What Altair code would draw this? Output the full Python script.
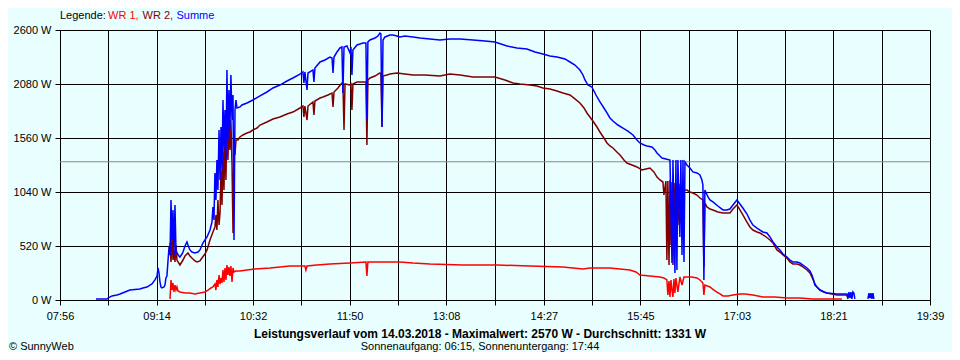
import altair as alt
import pandas as pd

# ---------------- data ----------------
X_LABELS = ["07:56", "09:14", "10:32", "11:50", "13:08", "14:27", "15:45", "17:03", "18:21", "19:39"]
Y_TICKS = [0, 520, 1040, 1560, 2080, 2600]
AVG_W = 1331
SERIES_NAMES = ["WR 1", "WR 2", "Summe"]
SERIES_COLORS = ["#FF0000", "#800000", "#0000FF"]

# time in minutes after midnight, power in W
SUM_T = [505.1,514.0,514.8,518.0,522.0,524.5,528.5,532.5,540.6,543.0,
         546.3,548.7,550.3,552.7,554.4,555.2,556.0,556.8,557.6,558.4,
         560.0,560.8,561.6,562.4,563.2,564.1,564.9,565.7,566.5,567.3,
         568.1,568.9,569.7,570.5,572.1,572.9,574.6,575.4,577.0,578.6,
         579.4,581.0,582.6,585.1,587.5,589.1,591.5,593.1,594.8,597.2,
         598.8,599.6,600.4,601.2,602.0,602.8,603.6,604.5,605.3,606.1,
         606.9,607.7,608.5,609.3,610.1,610.9,611.7,612.5,613.3,614.1,
         615.0,615.8,616.6,617.4,618.2,619.0,621.4,623.0,627.1,631.9,
         637.6,643.2,648.1,653.7,659.4,664.2,669.9,672.3,673.1,673.9,
         675.6,676.4,680.4,681.2,682.0,686.1,690.1,694.1,695.8,696.6,
         697.4,699.8,702.2,703.8,704.6,705.5,707.9,710.3,711.1,711.9,
         712.7,716.0,718.4,720.8,723.2,724.0,724.8,726.5,730.5,732.9,
         734.5,735.3,736.2,737.0,738.6,742.6,745.0,748.3,750.7,754.7,
         761.2,766.9,774.9,783.0,791.1,799.2,809.7,819.4,827.5,837.2,
         845.2,853.3,859.8,866.2,871.9,877.6,884.0,888.1,892.1,896.1,
         898.6,900.2,902.6,905.8,909.1,912.3,915.5,918.0,920.4,922.8,
         926.8,930.9,934.9,939.0,942.2,944.6,947.9,950.3,954.3,956.7,
         958.4,960.8,962.4,965.6,968.9,970.5,971.3,972.9,973.7,974.5,
         975.3,976.9,977.7,978.6,979.4,980.2,981.0,982.6,985.0,987.4,
         990.7,993.1,994.7,995.5,996.3,997.1,999.6,1001.2,1003.6,1007.6,
         1011.7,1014.9,1017.3,1019.8,1023.0,1025.4,1027.8,1031.1,1033.5,1035.9,
         1039.2,1041.6,1044.0,1047.2,1049.7,1052.1,1055.3,1057.7,1060.2,1063.4,
         1065.8,1068.2,1071.5,1073.9,1076.3,1079.6,1082.0,1083.6,1085.2,1086.0,
         1088.4,1090.1,1093.3,1095.7,1103.8,1111.9,1112.7,1113.5,1114.3,1115.1,
         1115.9,1116.7,1117.5,1118.3]
SUM_W = [10,10,19,39,48,58,77,96,106,116,
         125,144,154,193,231,308,260,173,125,116,
         125,144,212,231,366,510,433,963,578,867,
         433,915,482,453,424,414,443,462,520,559,
         530,482,462,453,462,482,549,578,607,674,
         751,896,770,1223,963,1348,1059,1637,1156,1666,
         1252,1926,1445,1830,1348,2215,1541,2022,1637,2167,
         1733,1974,578,1830,1926,1849,1859,1878,1897,1926,
         1965,2003,2042,2070,2109,2138,2176,2196,2090,2196,
         2022,2186,2215,2099,2234,2292,2311,2340,2330,2186,
         2340,2388,2427,2436,1993,2436,2446,2379,2436,2167,
         2408,2456,2465,2475,2475,1733,2485,2504,2523,2542,
         2570,2562,1666,2504,2533,2552,2552,2542,2533,2542,
         2533,2523,2513,2504,2513,2513,2504,2494,2485,2446,
         2427,2417,2388,2369,2350,2340,2321,2292,2263,2215,
         2167,2119,2070,2051,1974,1907,1849,1801,1753,1724,
         1685,1656,1627,1589,1541,1512,1493,1483,1473,1445,
         1416,1387,1367,1358,1348,356,1348,260,1348,289,
         1348,607,1348,433,1348,366,1329,1300,1271,1233,
         1223,1204,1156,1107,193,1059,992,963,944,905,
         867,867,876,915,963,924,886,828,770,722,
         693,674,655,645,607,559,510,482,443,414,
         385,366,366,356,337,308,279,241,183,144,
         116,96,77,67,58,58,19,77,19,77,
         10,77,67,10]
SUM2_T = [1128.8,1129.7,1130.5,1131.3,1132.1,1132.9,1133.7]
SUM2_W = [10,67,19,67,10,67,10]

WR2_T = [564.9,565.7,566.5,567.3,568.1,568.9,569.7,570.5,572.9,575.4,
         577.0,579.4,581.0,582.6,585.1,586.7,589.1,590.7,593.1,594.8,
         597.2,599.6,601.2,602.0,602.8,603.6,604.5,605.3,606.1,606.9,
         607.7,608.5,609.3,610.1,610.9,611.7,612.5,613.3,614.1,615.0,
         615.8,616.6,617.4,618.2,619.8,621.4,623.8,627.1,629.5,631.9,
         635.2,637.6,643.2,648.1,653.7,659.4,664.2,669.9,672.3,673.1,
         673.9,675.6,676.4,680.4,681.2,682.0,686.1,688.5,692.5,695.8,
         696.6,697.4,700.6,703.8,704.6,705.5,706.3,710.3,711.1,711.9,
         712.7,716.0,718.4,723.2,724.0,724.8,726.5,730.5,732.9,734.5,
         735.3,736.2,737.0,740.2,742.6,748.3,754.7,761.2,770.9,783.0,
         791.1,799.2,809.7,819.4,827.5,835.5,842.0,847.7,855.7,861.4,
         866.2,871.9,877.6,882.4,888.1,892.1,896.1,899.4,901.8,904.2,
         906.6,909.9,912.3,915.5,918.0,920.4,922.8,926.0,928.5,931.7,
         934.1,938.2,942.2,946.2,949.5,952.7,955.9,958.4,960.8,963.2,
         964.0,965.6,966.4,967.2,968.1,968.9,969.7,970.5,971.3,972.9,
         973.7,974.5,975.3,976.9,978.6,979.4,980.2,982.6,985.0,987.4,
         990.7,993.1,995.5,996.3,997.1,998.8,1001.2,1003.6,1007.6,1011.7,
         1017.3,1019.8,1023.0,1025.4,1027.8,1031.1,1033.5,1035.9,1039.2,1041.6,
         1045.6,1049.7,1052.1,1055.3,1057.7,1060.2,1063.4,1065.8,1068.2,1071.5,
         1073.9,1076.3,1079.6,1082.0,1083.6,1086.0,1087.6,1090.1,1093.3,1095.7,
         1103.8,1111.9,1112.7]
WR2_W = [549,366,626,385,482,366,530,385,337,385,
         424,453,424,404,376,366,376,404,443,482,
         578,655,703,819,674,963,722,838,1252,915,
         1445,1059,1637,1156,1782,1348,1685,1445,1733,1300,
         645,1493,1396,1541,1541,1570,1589,1608,1618,1637,
         1656,1685,1714,1743,1762,1791,1810,1849,1868,1762,
         1868,1733,1868,1907,1782,1916,1945,1955,1974,1993,
         1859,2003,2042,2090,2090,1637,2080,2070,2080,1830,
         2080,2099,2099,2099,1493,2119,2138,2157,2176,2186,
         2176,1666,2157,2167,2176,2186,2176,2167,2167,2157,
         2176,2167,2147,2147,2147,2119,2090,2080,2070,2061,
         2042,2032,2013,1993,1974,1936,1897,1849,1801,1762,
         1724,1666,1618,1560,1512,1483,1464,1425,1396,1348,
         1319,1300,1281,1252,1262,1271,1233,1184,1156,1136,
         1011,1146,385,1146,337,1156,530,1136,337,1127,
         578,1107,722,1098,1059,578,1059,1059,1040,1030,
         1011,982,963,318,934,896,876,867,847,838,
         838,876,915,867,819,751,703,674,655,645,
         616,578,549,482,462,433,404,366,347,347,
         337,318,289,260,221,154,125,96,77,67,
         48,48,10]

WR1_T = [564.9,565.7,566.5,567.3,568.1,568.9,569.7,570.5,571.3,572.9,
         577.0,581.0,585.1,589.1,593.1,595.6,598.0,599.6,601.2,602.0,
         602.8,603.6,604.5,605.3,606.1,606.9,607.7,608.5,609.3,610.1,
         610.9,611.7,612.5,613.3,614.1,615.0,615.8,616.6,618.2,621.4,
         627.1,633.5,645.7,661.8,673.9,674.7,675.6,683.6,694.1,710.3,
         723.2,724.0,724.8,734.5,750.7,761.2,774.9,801.6,829.1,855.7,
         882.4,898.6,904.2,920.4,928.5,936.5,941.4,944.6,952.7,960.8,
         964.0,966.4,967.2,968.1,968.9,969.7,970.5,971.3,972.1,972.9,
         973.7,975.3,976.9,978.6,980.2,986.6,990.7,993.1,995.5,996.3,
         997.1,1001.2,1004.4,1006.8,1009.3,1011.7,1015.7,1019.8,1025.4,1029.5,
         1035.9,1044.0,1053.7,1063.4,1073.9,1084.4,1107.8]
WR1_W = [10,193,96,164,77,144,96,125,87,77,
         67,67,58,67,77,96,116,125,154,96,
         193,125,241,154,212,164,289,173,308,193,
         337,241,318,231,327,173,308,270,279,279,
         289,299,308,327,327,289,327,337,347,356,
         366,231,366,366,366,356,347,337,337,327,
         318,299,308,308,299,289,270,241,231,221,
         212,193,48,183,29,193,96,29,202,67,
         212,77,221,144,221,221,212,193,164,48,
         144,125,96,77,58,39,39,48,58,58,
         48,29,29,19,19,10,10]

TITLE = "Leistungsverlauf vom 14.03.2018 - Maximalwert: 2570 W - Durchschnitt: 1331 W"
SUBTITLE = "Sonnenaufgang: 06:15, Sonnenuntergang: 17:44"
CREDIT = "\u00a9 SunnyWeb"

# ---------------- build tables ----------------
def to_min(s):
    h, m = s.split(":")
    return int(h) * 60 + int(m)

major = [to_min(s) for s in X_LABELS]
ticks = major + [(a + b) / 2 for a, b in zip(major[:-1], major[1:])]
label_expr = "".join(f"datum.value == {m} ? '{s}' : " for m, s in zip(major, X_LABELS)) + "''"

df_sum = pd.DataFrame({"t": SUM_T + SUM2_T, "w": SUM_W + SUM2_W,
                       "seg": [1] * len(SUM_T) + [2] * len(SUM2_T)})
df_wr2 = pd.DataFrame({"t": WR2_T, "w": WR2_W})
df_wr1 = pd.DataFrame({"t": WR1_T, "w": WR1_W})
df_avg = pd.DataFrame({"w": [AVG_W]})

FONT = "Liberation Sans"

x_enc = alt.X("t:Q",
              scale=alt.Scale(domain=[major[0], major[-1]], nice=False, zero=False),
              axis=alt.Axis(values=ticks, labelExpr=label_expr, title=None, grid=True,
                            tickSize=5, labelPadding=5, labelFlush=False,
                            labelOverlap=False))
y_enc = alt.Y("w:Q",
              scale=alt.Scale(domain=[0, 2600], nice=False),
              axis=alt.Axis(values=Y_TICKS, labelExpr="datum.value + ' W'", title=None,
                            grid=True, tickSize=5, labelPadding=4))

avg_rule = alt.Chart(df_avg).mark_rule(color="#8a8a8a", strokeWidth=1).encode(y=y_enc)

line_sum = alt.Chart(df_sum).mark_line(color=SERIES_COLORS[2], strokeWidth=1.5).encode(
    x=x_enc, y=y_enc, detail="seg:N")
line_wr2 = alt.Chart(df_wr2).mark_line(color=SERIES_COLORS[1], strokeWidth=1.5).encode(
    x=x_enc, y=y_enc)
line_wr1 = alt.Chart(df_wr1).mark_line(color=SERIES_COLORS[0], strokeWidth=1.5).encode(
    x=x_enc, y=y_enc)

one = pd.DataFrame({"a": [0]})

def label(text, x, y, color="black", bold=False, align="left", size=11):
    return alt.Chart(one).mark_text(
        text=text, font=FONT, fontSize=size, color=color, align=align,
        baseline="middle", fontWeight="bold" if bold else "normal"
    ).encode(x=alt.value(x), y=alt.value(y))

texts = [
    label("Legende:", 0, -14),
    label(SERIES_NAMES[0] + ",", 48, -14, SERIES_COLORS[0]),
    label(SERIES_NAMES[1] + ",", 82.5, -14, SERIES_COLORS[1]),
    label(SERIES_NAMES[2], 116.5, -14, SERIES_COLORS[2]),
    label(TITLE, 420, 304, bold=True, align="center", size=12),
    label(SUBTITLE, 420, 317, align="center"),
    label(CREDIT, -51, 317),
]

chart = alt.layer(avg_rule, line_wr1, line_wr2, line_sum, *texts).properties(
    width=870, height=270,
    padding={"left": 52, "top": 22, "right": 22, "bottom": 52},
    autosize="none",
).configure(background="#E9FEFE").configure_view(stroke=None).configure_axis(
    labelFont=FONT, labelFontSize=11, labelColor="black",
    domainColor="black", domainWidth=1, tickColor="black", tickWidth=1,
    gridColor="black", gridWidth=1, gridOpacity=1,
)

chart.save("out.html", embed_options={"renderer": "svg", "actions": False})
